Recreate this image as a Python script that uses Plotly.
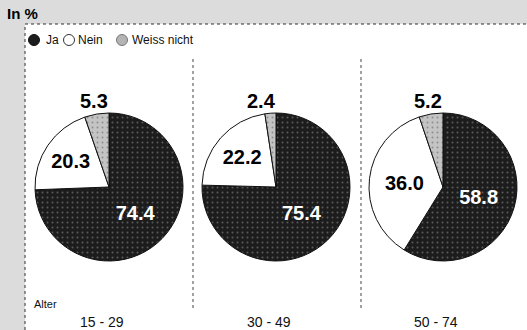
import plotly.graph_objects as go

# Survey shares (in %) per age group
age_groups = ["15 - 29", "30 - 49", "50 - 74"]
answers = ["Ja", "Nein", "Weiss nicht"]
ja = [74.4, 75.4, 58.8]
nein = [20.3, 22.2, 36.0]
weiss_nicht = [5.3, 2.4, 5.2]

W, H = 527, 330
FONT = "Liberation Sans, Arial, sans-serif"

def px(x):
    return x / W

def py(y):
    return 1 - y / H

# pie layout in pixels
centers_x = [109, 276, 443]
center_y = 187
radius = 74

fig = go.Figure()

for i, grp in enumerate(age_groups):
    cx = centers_x[i]
    values = [ja[i], nein[i], weiss_nicht[i]]
    fig.add_trace(go.Pie(
        labels=answers,
        values=values,
        sort=False,
        direction="clockwise",
        rotation=0,
        hole=0,
        showlegend=False,
        domain=dict(x=[px(cx - radius), px(cx + radius)],
                    y=[py(center_y + radius), py(center_y - radius)]),
        marker=dict(
            colors=["#1c1c1c", "#ffffff", "#b4b4b4"],
            line=dict(color="#111111", width=1),
            pattern=dict(
                shape=[".", "", "."],
                fgcolor=["#9a9a9a", "#ffffff", "#555555"],
                bgcolor=["#1c1c1c", "#ffffff", "#c4c4c4"],
                size=5,
                solidity=0.12,
                fillmode="overlay",
            ),
        ),
        texttemplate="%{value:.1f}",
        textposition=["inside", "inside", "none"],
        insidetextorientation="horizontal",
        insidetextfont=dict(family=FONT, size=20, color=["white", "black", "black"],
                            weight="bold"),
        hoverinfo="label+value",
    ))
    # small share written above the pie
    fig.add_annotation(
        x=px(cx - 15), y=py(101), xref="paper", yref="paper",
        text=f"{weiss_nicht[i]:.1f}", showarrow=False,
        font=dict(family=FONT, size=20, color="black", weight="bold"),
        xanchor="center", yanchor="middle",
    )
    # age group label
    fig.add_annotation(
        x=px(cx - 7), y=py(322), xref="paper", yref="paper",
        text=grp, showarrow=False,
        font=dict(family=FONT, size=14, color="#111111"),
        xanchor="center", yanchor="middle",
    )

shapes = [
    # textured margin strips
    dict(type="rect", xref="paper", yref="paper", x0=0, x1=px(25), y0=0, y1=1,
         fillcolor="#dcdcdc", line=dict(width=0), layer="below"),
    dict(type="rect", xref="paper", yref="paper", x0=0, x1=1, y0=py(24), y1=1,
         fillcolor="#dcdcdc", line=dict(width=0), layer="below"),
    # frame lines
    dict(type="line", xref="paper", yref="paper", x0=px(25), x1=px(25), y0=0, y1=py(24),
         line=dict(color="#333333", width=1, dash="dot")),
    dict(type="line", xref="paper", yref="paper", x0=px(25), x1=1, y0=py(24), y1=py(24),
         line=dict(color="#333333", width=1, dash="dot")),
    # separators between pies
    dict(type="line", xref="paper", yref="paper", x0=px(193), x1=px(193), y0=py(308), y1=py(58),
         line=dict(color="#444444", width=1, dash="dot")),
    dict(type="line", xref="paper", yref="paper", x0=px(361), x1=px(361), y0=py(308), y1=py(58),
         line=dict(color="#444444", width=1, dash="dot")),
]

# legend symbols
legend_items = [
    (34, "#1c1c1c", "#111111", 44, answers[0]),
    (69, "#ffffff", "#333333", 76, answers[1]),
    (122, "#b4b4b4", "#777777", 130, answers[2]),
]
legend_y = 40
for sx, fill, edge, tx, label in legend_items:
    shapes.append(dict(type="circle", xref="paper", yref="paper",
                       x0=px(sx - 5.5), x1=px(sx + 5.5),
                       y0=py(legend_y + 5.5), y1=py(legend_y - 5.5),
                       fillcolor=fill, line=dict(color=edge, width=1)))
    fig.add_annotation(x=px(tx), y=py(legend_y), xref="paper", yref="paper",
                       text=label, showarrow=False, xanchor="left", yanchor="middle",
                       font=dict(family=FONT, size=12, color="#111111"))

fig.add_annotation(x=px(5), y=py(13), xref="paper", yref="paper", text="In %",
                   showarrow=False, xanchor="left", yanchor="middle",
                   font=dict(family=FONT, size=15, color="black", weight="bold"))
fig.add_annotation(x=px(32), y=py(304), xref="paper", yref="paper", text="Alter",
                   showarrow=False, xanchor="left", yanchor="middle",
                   font=dict(family=FONT, size=11, color="#111111"))

fig.update_layout(
    width=W, height=H,
    margin=dict(l=0, r=0, t=0, b=0),
    paper_bgcolor="white",
    plot_bgcolor="white",
    shapes=shapes,
)

fig.write_html("out.html")
